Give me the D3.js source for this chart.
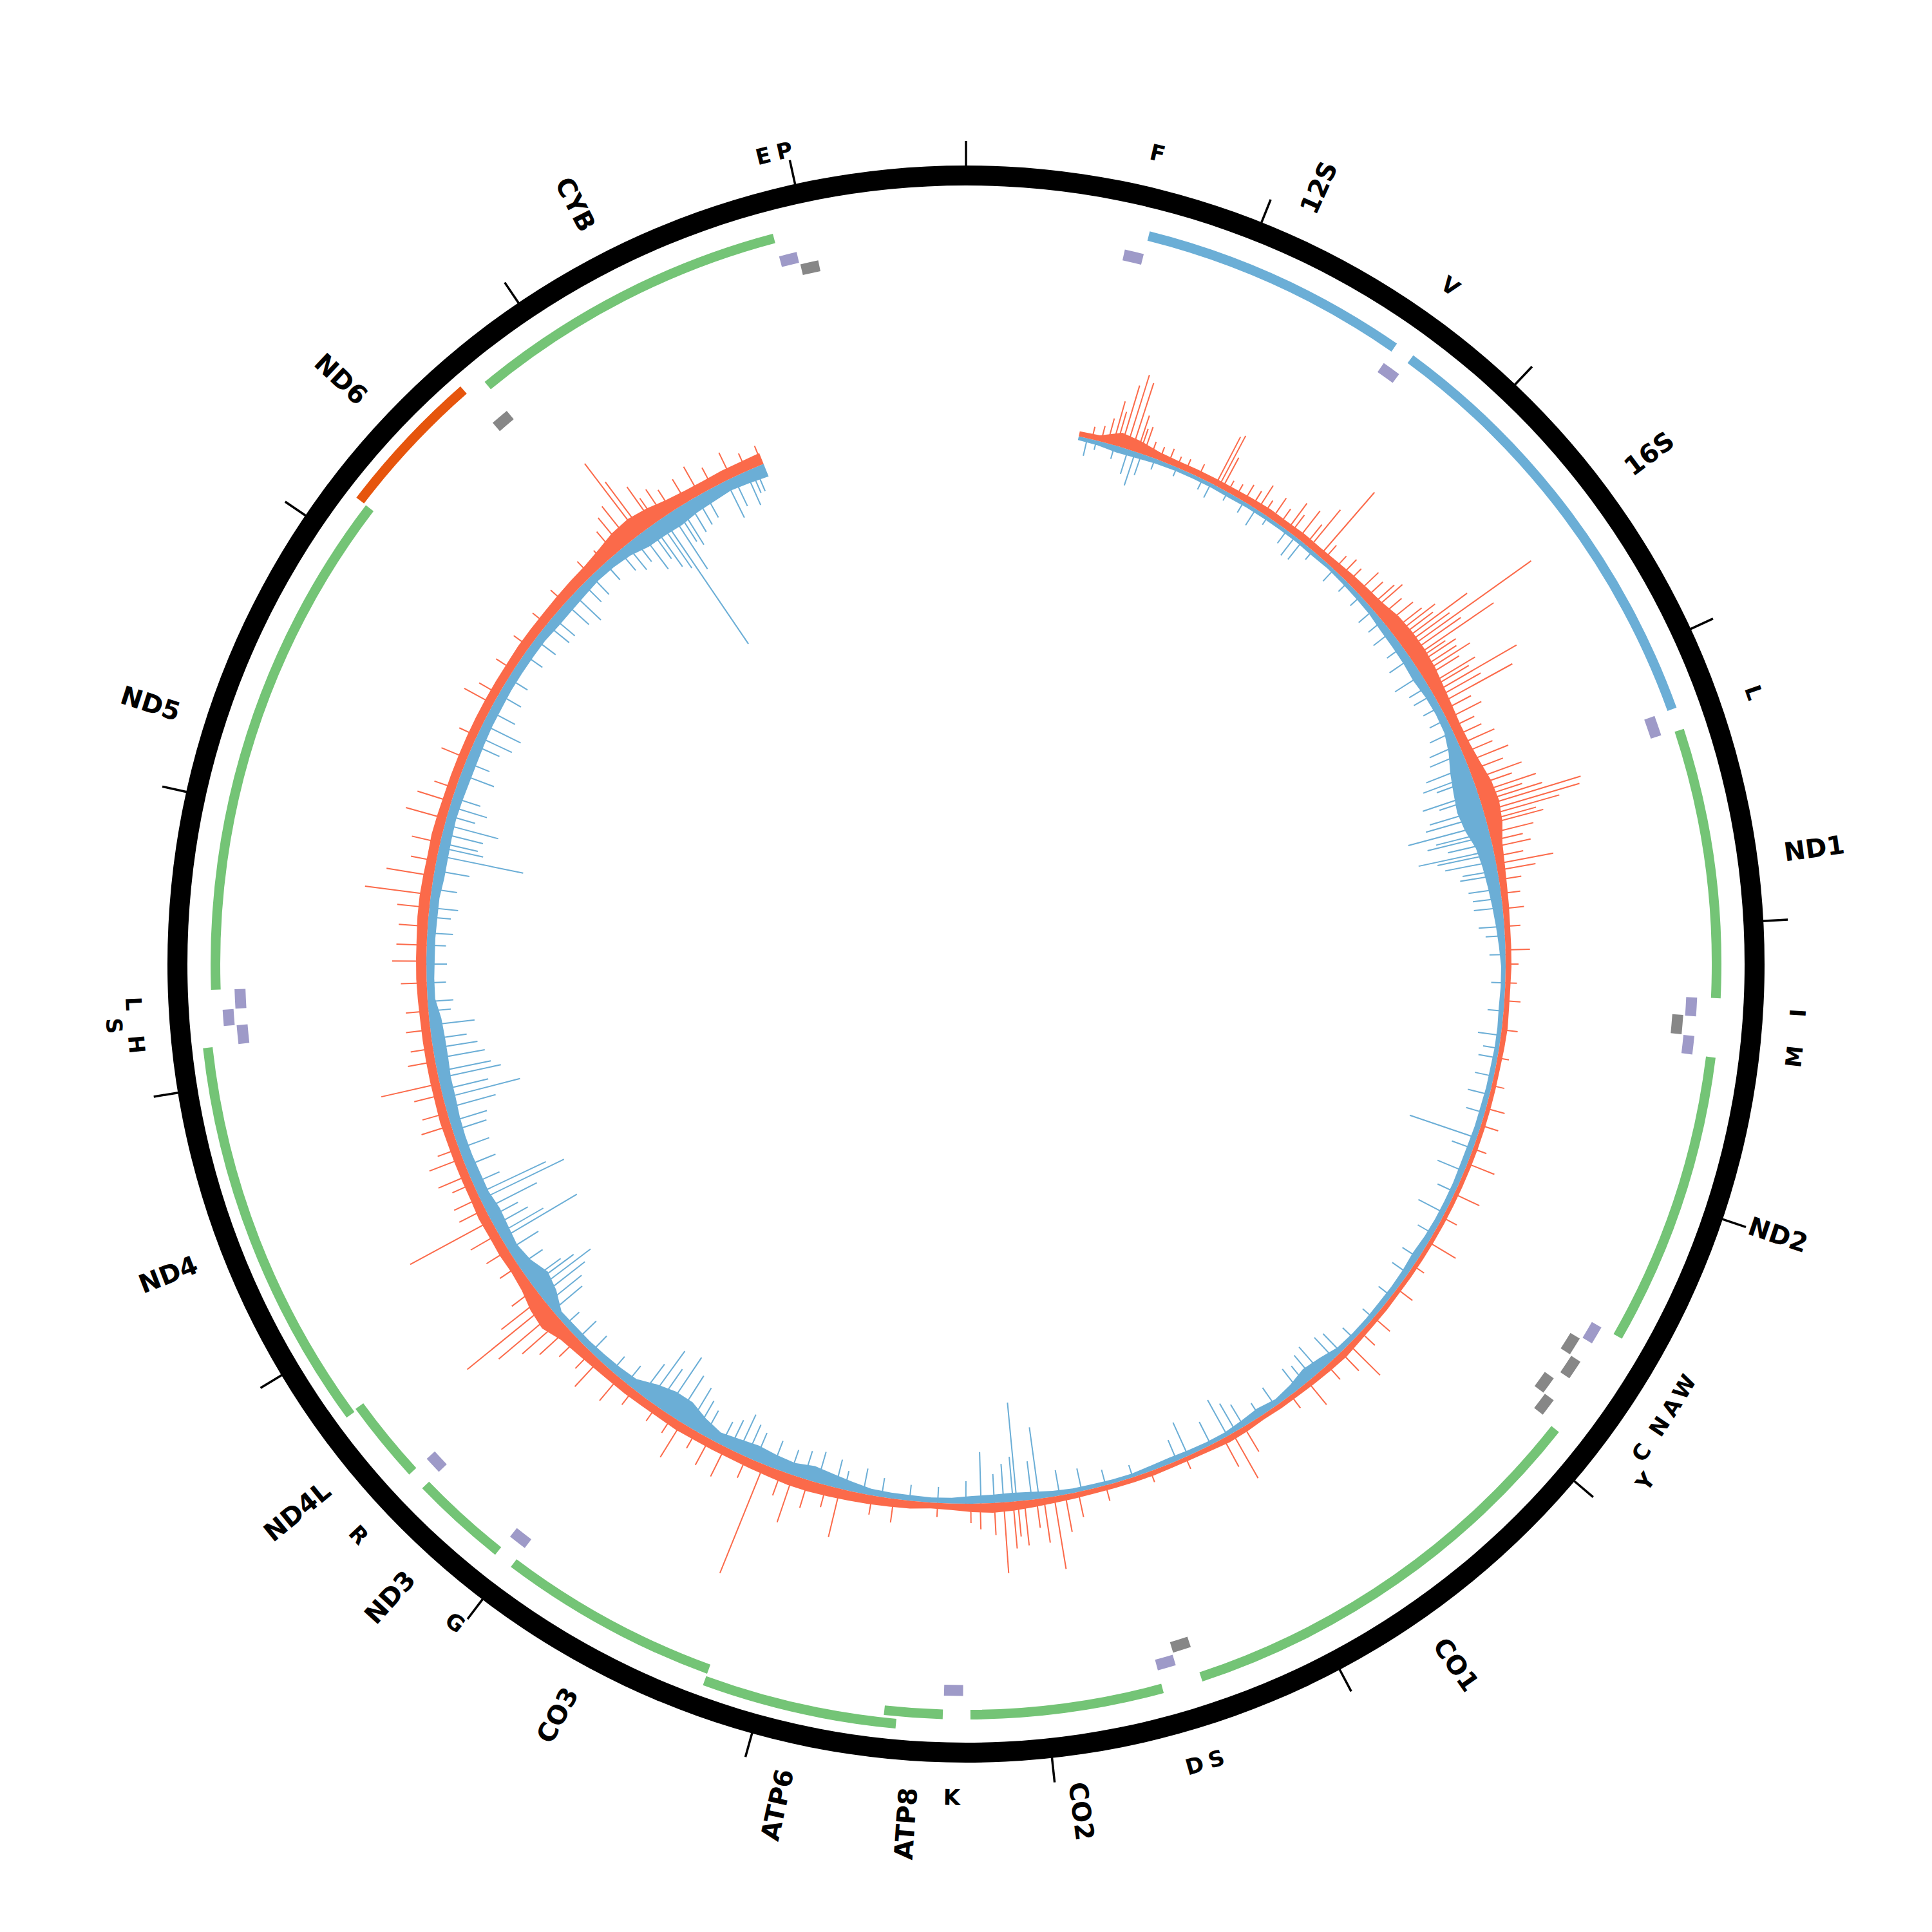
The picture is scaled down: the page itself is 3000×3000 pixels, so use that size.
<!DOCTYPE html>
<html>
<head>
<meta charset="utf-8">
<script src="https://cdn.jsdelivr.net/npm/d3@7"></script>
<style>
  body { margin: 0; background: #fff; }
  text { font-family: "DejaVu Sans", sans-serif; fill: #000; font-weight: bold; }
</style>
</head>
<body>
<div id="chart"></div>
<script>
// mitochondrial genome map (rCRS coordinates)
var genomeLength = 16569;

// protein coding genes + rRNAs
var geneName   = ["12S","16S","ND1","ND2","CO1","CO2","ATP8","ATP6","CO3","ND3","ND4L","ND4","ND5","ND6","CYB"];
var geneStart  = [648,1671,3307,4470,5904,7586,8366,8527,9207,10059,10470,10760,12337,14149,14747];
var geneEnd    = [1601,3229,4262,5511,7445,8269,8572,9207,9990,10404,10766,12137,14148,14673,15887];
var geneType   = ["rRNA","rRNA","CDS","CDS","CDS","CDS","CDS","CDS","CDS","CDS","CDS","CDS","CDS","CDS","CDS"];
var geneStrand = [1,1,1,1,1,1,1,1,1,1,1,1,1,-1,1];

// tRNAs (label as printed on the figure, empty = no label)
var trnaLabel  = ["F","V","L","I","","M","W","A","N","C","Y","S","D","K","G","R","H","S","L","","E","P"];
var trnaStart  = [577,1602,3230,4263,4329,4402,5512,5587,5657,5761,5826,7446,7518,8295,9991,10405,12138,12207,12266,14674,15888,15956];
var trnaEnd    = [647,1670,3304,4331,4400,4469,5579,5655,5729,5826,5891,7514,7585,8364,10058,10469,12206,12265,12336,14742,15953,16023];
var trnaStrand = [1,1,1,1,-1,1,1,-1,-1,-1,-1,-1,1,1,1,1,1,1,1,-1,1,-1];

// coverage body, 100 bp bins starting at covStart
var covStart = 555, covBin = 100;
var fwdDepth = [8,9,22,18,12,10,10,10,10,11,12,11,12,11,12,14,16,18,24,26,
  26,24,20,17,15,16,20,26,28,24,16,13,11,10,9,9,9,8,8,9,
  8,7,7,7,7,7,7,7,7,7,7,7,7,7,8,8,9,11,10,9,
  8,8,7,9,10,8,7,7,8,8,8,8,9,10,12,14,15,13,10,9,
  12,13,14,15,16,17,17,15,14,13,13,13,14,13,13,14,14,15,17,20,
  30,26,18,15,16,15,16,14,14,14,14,15,14,14,14,14,14,15,16,16,
  16,17,17,16,15,16,15,14,14,14,14,14,14,14,14,15,15,15,16,17,
  18,22,28,30,26,20,17,16,17,17,18];
var revDepth = [6,7,10,9,7,6,6,6,7,6,6,6,6,7,6,7,8,9,12,13,
  14,16,13,12,13,20,30,36,40,36,26,22,19,16,13,10,7,7,8,7,
  7,8,8,9,9,10,10,9,9,9,10,12,10,9,9,8,8,9,16,20,
  13,9,13,10,7,7,8,9,8,6,6,7,7,9,12,14,13,12,9,8,
  9,9,10,15,20,24,19,21,24,21,17,25,36,36,28,15,13,12,11,11,
  10,25,32,21,16,19,21,17,17,16,16,17,19,19,21,21,19,12,12,13,
  13,14,14,17,17,16,15,16,17,17,16,15,15,14,14,14,14,16,16,15,
  13,14,17,24,25,26,22,20,17,19,21];

// single-position peaks above the binned body
var fwdPeakPos = [727,769,796,824,851,884,1266,1284,1303,1427,1505,1588,1680,1749,1818,1882,2025,2140,2255,2416,
  2462,2508,2559,2596,2646,2711,2757,2817,2900,3038,3130,3222,3291,3360,3387,3410,3452,3498,3650,3682,
  3871,4073,4322,4464,4856,4943,5141,5302,5569,5845,6025,6204,6476,6922,7797,7852,7903,7999,8054,8100,
  8639,8906,9145,9297,9504,9591,9748,10126,10254,10526,10576,10627,11120,11244,11368,11456,11626,11838,11948,12441,
  12519,12767,12859,13145,13232,13458,13752,13946,14544,14636,14852,14875,14940,15004,15133,15207,15382,15547,
  621,667,700,746,865,921,967,1013,1059,1105,1174,1335,1381,1473,1542,1634,1703,1795,1910,1979,
  2071,2186,2232,2301,2347,2393,2439,2485,2531,2577,2623,2669,2729,2785,2854,2946,2992,3084,3176,3254,
  3314,3337,3434,3535,3567,3613,3728,3797,3958,4142,4234,4603,4741,5063,5431,5707,6121,6259,6351,6582,
  6858,6973,7180,7364,7594,7732,7939,8031,8146,8215,8261,8423,8745,8975,9067,9205,9389,9665,9803,9895,
  10033,10310,10402,10471,10669,10724,10862,10954,11046,11184,11322,11506,11690,11782,12013,12105,12197,12335,12611,12703,
  12933,13025,13301,13577,13808,14083,14222,14360,14705,14751,14797,14958,15050,15280,15464];
var fwdPeakVal = [70,100,120,110,60,45,85,90,55,30,45,40,52,55,76,131,35,45,60,80,
  130,240,155,75,90,85,150,130,60,60,70,80,95,160,155,120,90,70,90,60,
  33,38,25,25,30,28,45,43,49,30,33,68,46,80,59,114,70,70,73,110,
  37,77,77,182,51,46,63,47,56,79,112,160,143,44,52,55,48,93,43,53,
  47,103,74,65,55,43,51,32,31,26,139,97,71,51,42,50,44,31,
  20,25,40,55,40,25,22,25,18,20,22,20,22,28,25,30,35,40,30,28,
  30,40,50,45,55,60,70,90,100,60,70,65,70,80,50,40,45,50,55,60,
  70,100,80,50,60,45,35,30,25,20,18,18,20,22,25,20,30,40,30,25,
  45,50,20,18,25,40,45,55,50,40,30,22,30,35,45,40,35,30,30,28,
  30,35,40,60,80,45,35,40,50,45,35,35,40,45,35,38,35,40,45,50,
  40,45,35,30,35,30,28,30,45,60,70,45,40,35,30];
var revPeakPos = [598,805,842,874,1243,1496,1731,1772,1979,2255,2393,2651,2762,3038,3153,3222,3291,3374,3452,3507,
  3581,3636,3705,3866,3958,4492,4603,4787,5008,5182,5408,5661,6259,6397,6536,6674,6950,7166,7714,7926,
  8036,8100,8211,8883,9090,9343,9435,9527,9665,9845,9941,9987,10402,10678,10715,10770,11018,11092,11235,11267,
  11414,11598,11764,11865,11897,11962,12013,12128,12243,12579,12703,12961,13025,13117,13255,13375,13577,13642,13808,14038,
  14268,14420,14489,14820,14912,14972,14995,15041,15096,15188,15354,15460,15510,
  644,736,944,1059,1197,1335,1427,1565,1680,1841,2071,2163,2324,2485,2554,2715,2831,2900,2969,3084,
  3199,3314,3406,3489,3544,3599,3682,3774,3820,4004,4096,4234,4372,4556,4695,4879,5063,5293,5523,5753,
  5891,6029,6167,6305,6444,6490,6766,6858,6904,7042,7226,7456,7594,7824,7962,8054,8146,8285,8423,8561,
  8699,8791,8929,9021,9159,9251,9389,9481,9619,9711,9780,9895,10079,10172,10310,10494,10586,10632,10747,10862,
  10954,11046,11138,11184,11322,11506,11644,11713,11805,12059,12197,12335,12427,12519,12657,12795,12887,13002,13071,13163,
  13209,13439,13531,13715,13900,14130,14222,14360,14544,14636,14728,14774,14866,14935,15073,15142,15234,15395,15487];
var revPeakVal = [28,40,55,35,25,30,37,35,25,30,35,49,35,50,70,60,90,86,127,100,
  119,80,60,45,40,36,30,35,110,45,46,30,40,50,40,35,64,57,36,112,
  154,60,80,30,45,47,66,40,55,102,95,60,40,87,106,60,136,60,144,117,
  50,55,123,99,85,79,70,70,40,40,45,136,60,86,45,55,60,66,40,35,
  45,59,40,45,60,90,237,105,70,50,64,57,40,
  15,22,18,15,18,15,20,15,25,18,20,22,28,30,40,35,30,30,40,55,
  80,65,95,85,70,90,55,50,45,30,25,22,25,25,30,30,35,30,28,30,
  25,22,25,45,45,35,25,40,50,40,35,20,25,40,60,70,45,35,25,25,
  30,40,45,50,40,45,55,50,45,70,80,70,35,30,35,30,60,70,80,45,
  55,80,50,90,45,50,60,80,75,55,35,30,32,30,35,40,55,70,65,45,
  60,40,45,45,35,40,45,50,40,35,40,50,70,80,60,55,45,50,40];

var colors = {
  rRNA: "#6baed6", CDS: "#74c476", CDSminus: "#e6550d",
  tplus: "#9e9ac8", tminus: "#878787",
  fwd: "#fb6a4a", rev: "#6baed6"
};

var W = 3000, H = 3000, cx = 1500, cy = 1497;
var ringIn = 1209, ringOut = 1240, tickOut = 1278;
var geneR0 = 1158, geneW = 15, geneStep = 19;
var trnaR0 = 1128, trnaW = 17, trnaStep = 20;
var covR = 838;

var svg = d3.select("#chart").append("svg")
  .attr("width", W).attr("height", H);
var g = svg.append("g").attr("transform", "translate(" + cx + "," + cy + ")");

var angle = d3.scaleLinear().domain([0, genomeLength]).range([0, 2 * Math.PI]);
var depth = d3.scaleLinear().domain([0, 250]).range([0, 250]);
var deg = function(bp) { return angle(bp) * 180 / Math.PI; };
function pt(r, a) { return [r * Math.sin(a), -r * Math.cos(a)]; }

// stack overlapping / touching features on separate rows
function assignRows(starts, ends, order) {
  var lastEnd = {};
  return starts.map(function(s, i) {
    var cands = order(i);
    for (var k = 0; k < cands.length; k++) {
      var row = cands[k];
      if (lastEnd[row] === undefined || s - lastEnd[row] >= 20) {
        lastEnd[row] = ends[i];
        return row;
      }
    }
    return cands[0];
  });
}

// ---- coverage track
var covPos = fwdDepth.map(function(d, i) { return covStart + i * covBin; });

var fwdArea = d3.areaRadial()
  .angle(function(d, i) { return angle(covPos[i]); })
  .innerRadius(covR)
  .outerRadius(function(d) { return covR + depth(d); });
var revArea = d3.areaRadial()
  .angle(function(d, i) { return angle(covPos[i]); })
  .innerRadius(function(d) { return covR - depth(d); })
  .outerRadius(covR);

function peaks(pos, val, sign, color) {
  g.append("g").selectAll("line").data(pos).enter().append("line")
    .attr("x1", function(d) { return pt(covR, angle(d))[0]; })
    .attr("y1", function(d) { return pt(covR, angle(d))[1]; })
    .attr("x2", function(d, i) { return pt(covR + sign * depth(val[i]), angle(d))[0]; })
    .attr("y2", function(d, i) { return pt(covR + sign * depth(val[i]), angle(d))[1]; })
    .style("stroke", color).style("stroke-width", 2);
}

peaks(revPeakPos, revPeakVal, -1, colors.rev);
g.append("path").datum(revDepth).attr("d", revArea).style("fill", colors.rev);
peaks(fwdPeakPos, fwdPeakVal, 1, colors.fwd);
g.append("path").datum(fwdDepth).attr("d", fwdArea).style("fill", colors.fwd);

// ---- outer ring + ticks
g.append("path")
  .attr("d", d3.arc()({innerRadius: ringIn, outerRadius: ringOut, startAngle: 0, endAngle: 2 * Math.PI}))
  .style("fill", "#000");

g.selectAll(".tick").data(d3.range(0, genomeLength, 1000)).enter().append("line")
  .attr("class", "tick")
  .attr("x1", function(d) { return pt(ringOut - 2, angle(d))[0]; })
  .attr("y1", function(d) { return pt(ringOut - 2, angle(d))[1]; })
  .attr("x2", function(d) { return pt(tickOut, angle(d))[0]; })
  .attr("y2", function(d) { return pt(tickOut, angle(d))[1]; })
  .style("stroke", "#000").style("stroke-width", 3.5);

// ---- genes
var geneRow = assignRows(geneStart, geneEnd, function() { return [0, 1]; });
var arc = d3.arc();
g.selectAll(".gene").data(geneName).enter().append("path")
  .attr("class", "gene")
  .attr("d", function(d, i) {
    var r = geneR0 + geneRow[i] * geneStep;
    return arc({innerRadius: r, outerRadius: r + geneW,
      startAngle: angle(geneStart[i]), endAngle: angle(geneEnd[i])});
  })
  .style("fill", function(d, i) {
    if (geneType[i] == "rRNA") return colors.rRNA;
    return geneStrand[i] < 0 ? colors.CDSminus : colors.CDS;
  });

// ---- tRNAs
var trnaRow = assignRows(trnaStart, trnaEnd, function(i) {
  return trnaStrand[i] > 0 ? [0, -1, 1] : [1, 0, 2];
});
g.selectAll(".trna").data(trnaLabel).enter().append("path")
  .attr("class", "trna")
  .attr("d", function(d, i) {
    var rc = trnaR0 - trnaRow[i] * trnaStep;
    return arc({innerRadius: rc - trnaW / 2, outerRadius: rc + trnaW / 2,
      startAngle: angle(trnaStart[i]), endAngle: angle(trnaEnd[i])});
  })
  .style("fill", function(d, i) { return trnaStrand[i] > 0 ? colors.tplus : colors.tminus; });

// ---- gene labels (radial)
g.selectAll(".glab").data(geneName).enter().append("text")
  .attr("class", "glab")
  .attr("transform", function(d, i) {
    var mid = (geneStart[i] + geneEnd[i]) / 2;
    var a = deg(mid);
    var p = pt(tickOut + 4, angle(mid));
    var rot = a < 180 ? a - 90 : a + 90;
    return "translate(" + p[0] + "," + p[1] + ") rotate(" + rot + ")";
  })
  .attr("text-anchor", function(d, i) { return deg((geneStart[i] + geneEnd[i]) / 2) < 180 ? "start" : "end"; })
  .attr("dominant-baseline", "central")
  .style("font-size", "40px")
  .text(function(d) { return d; });

// ---- tRNA labels (tangential), bumped outward when crowded
var labIdx = d3.range(trnaLabel.length).filter(function(i) { return trnaLabel[i]; });
var lastOnRow = {};
var labRow = {};
labIdx.forEach(function(i) {
  var a = deg((trnaStart[i] + trnaEnd[i]) / 2);
  var row = 0;
  while (lastOnRow[row] !== undefined && a - lastOnRow[row] < 1.45) row++;
  lastOnRow[row] = a;
  labRow[i] = row;
});
g.selectAll(".tlab").data(labIdx).enter().append("text")
  .attr("class", "tlab")
  .attr("transform", function(i) {
    var mid = (trnaStart[i] + trnaEnd[i]) / 2;
    var a = deg(mid);
    var p = pt(1294 + labRow[i] * 32, angle(mid));
    var rot = (a < 90 || a > 270) ? a : a - 180;
    return "translate(" + p[0] + "," + p[1] + ") rotate(" + rot + ")";
  })
  .attr("text-anchor", "middle")
  .attr("dominant-baseline", "central")
  .style("font-size", "34px")
  .text(function(i) { return trnaLabel[i]; });
</script>
</body>
</html>
